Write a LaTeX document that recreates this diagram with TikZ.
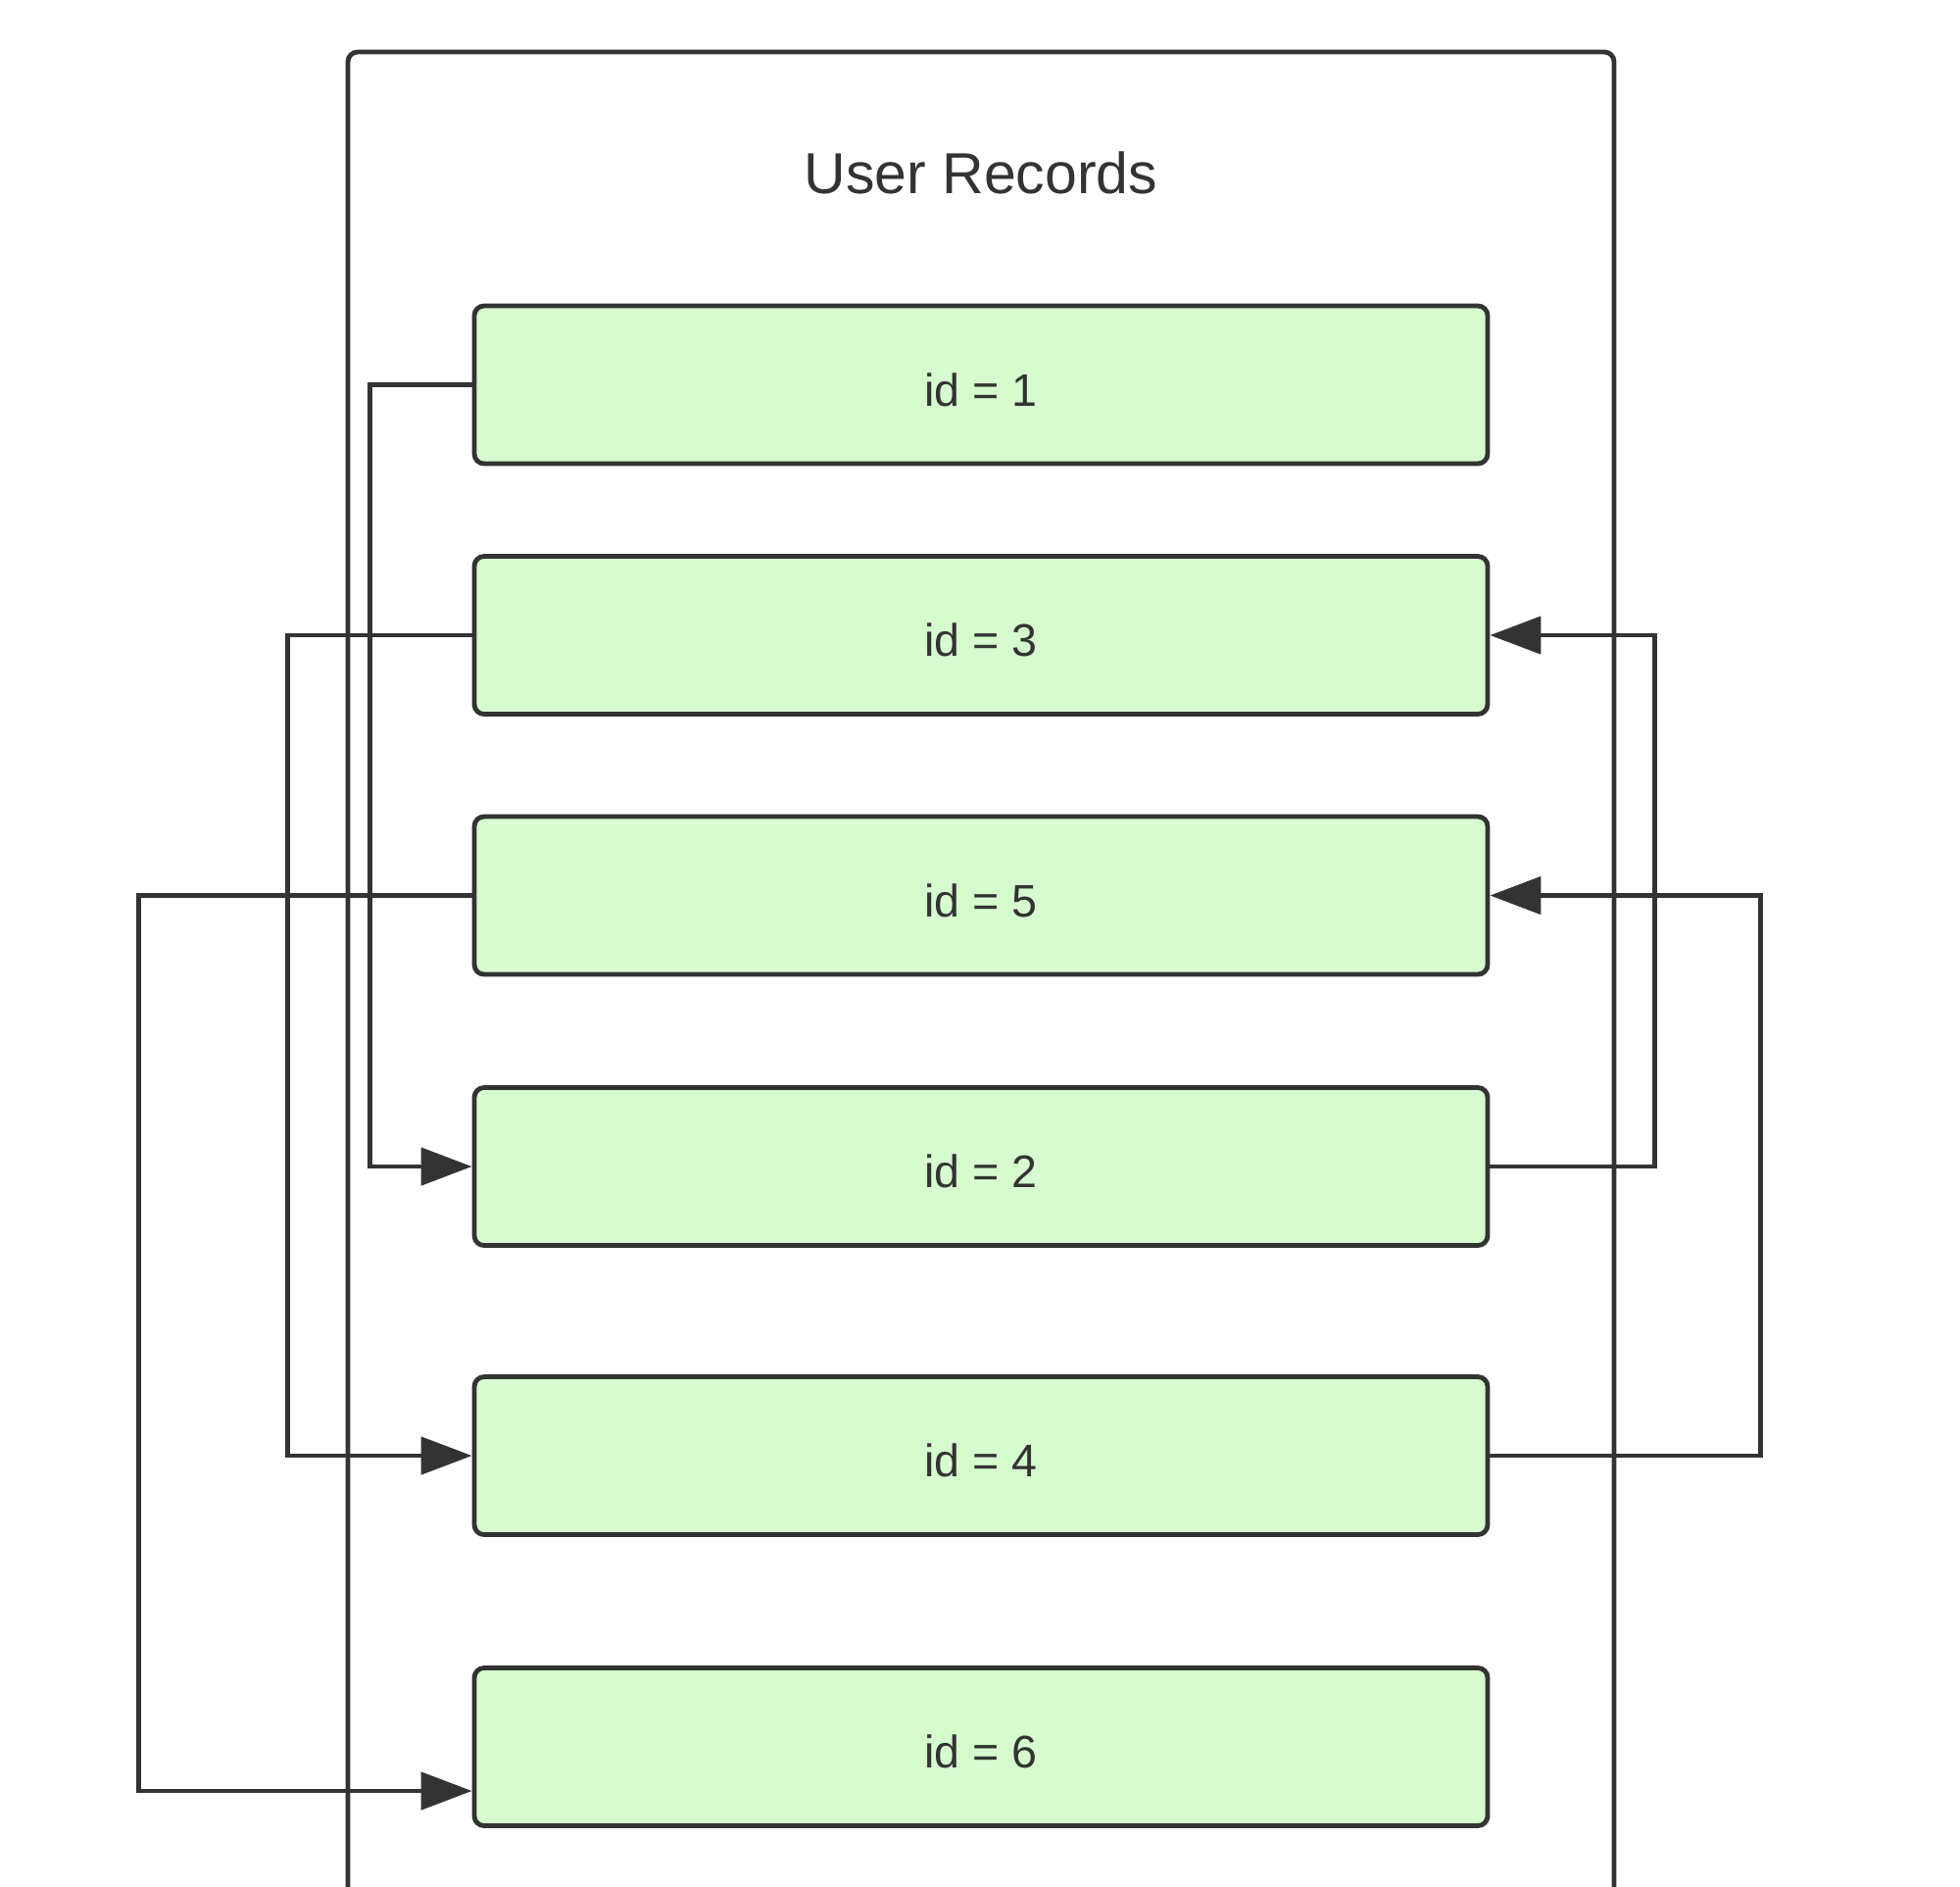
\documentclass[tikz,border=0pt]{standalone}
\usepackage{fontspec}
\setmainfont{Liberation Sans}
\usetikzlibrary{arrows.meta}
\definecolor{ink}{HTML}{333333}
\definecolor{recfill}{HTML}{D6FBCF}
\begin{document}
\begin{tikzpicture}[x=0.5pt,y=-0.5pt,
  recbox/.style={draw=ink, fill=recfill, line width=2.4pt, rounded corners=5pt,
    minimum width=517pt, minimum height=80.5pt, inner sep=0pt, text=ink,
    text height=21.5pt, text depth=0pt,
    font=\fontsize{23.3}{27}\selectfont},
  link/.style={draw=ink, line width=2.4pt, -{Triangle[length=26pt,width=19pt]}},
  frame/.style={draw=ink, line width=2.4pt, rounded corners=5pt},
  titletext/.style={text=ink, font=\fontsize{29.5}{34}\selectfont}
]
\clip (0,0) rectangle (2000,1924);
\fill[white] (0,0) rectangle (2000,1924);
% container
\draw[frame] (355,1960) -- (355,53) -- (1647,53) -- (1647,1960);
\node[titletext] (title) at (1001,176) {User Records};
% records
\node[recbox] (r1) at (1001,392.5) {id = 1};
\node[recbox] (r3) at (1001,648) {id = 3};
\node[recbox] (r5) at (1001,913.5) {id = 5};
\node[recbox] (r2) at (1001,1190) {id = 2};
\node[recbox] (r4) at (1001,1485) {id = 4};
\node[recbox] (r6) at (1001,1782) {id = 6};
% links
\draw[link] (r1.west) -- ++(-104,0) |- (r2.west);
\draw[link] (r3.west) -- ++(-188,0) |- (r4.west);
\draw[link] (r5.west) -- ++(-340,0) |- ([yshift=-22.5pt]r6.west);
\draw[link] (r2.east) -- ++(168,0) |- (r3.east);
\draw[link] (r4.east) -- ++(276,0) |- (r5.east);
\end{tikzpicture}
\end{document}
